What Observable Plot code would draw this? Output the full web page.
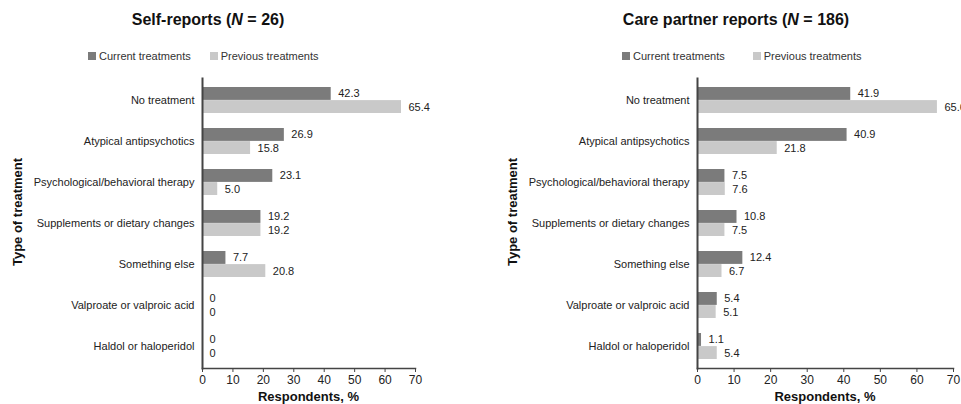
<!DOCTYPE html>
<html>
<head>
<meta charset="utf-8">
<script src="https://cdn.jsdelivr.net/npm/d3@7"></script>
<script src="https://cdn.jsdelivr.net/npm/@observablehq/plot@0.6"></script>
<style>
  html, body { margin: 0; padding: 0; background: #fff; }
  body { width: 961px; height: 404px; position: relative; overflow: hidden; font-family: "Liberation Sans", Arial, sans-serif; color: #222; }
  .panel { position: absolute; top: 0; height: 404px; }
  .title { position: absolute; top: 11px; font-size: 16px; font-weight: bold; white-space: nowrap; transform: translateX(-50%); color: #111; }
  .legend { position: absolute; top: 50px; font-size: 11px; white-space: nowrap; color: #333; }
  .legend span.sw { display: inline-block; width: 8px; height: 8px; margin-right: 3px; vertical-align: -0px; }
  .ytitle { position: absolute; font-size: 13px; font-weight: bold; white-space: nowrap; transform: translate(-50%, -50%) rotate(-90deg); color: #111; }
  .plotwrap { position: absolute; top: 70px; left: 0; }
  .plotwrap svg { overflow: visible; }
</style>
</head>
<body>
<script>
const categories = [
  "No treatment",
  "Atypical antipsychotics",
  "Psychological/behavioral therapy",
  "Supplements or dietary changes",
  "Something else",
  "Valproate or valproic acid",
  "Haldol or haloperidol"
];
const seriesNames = ["Current treatments", "Previous treatments"];
const seriesColors = ["#7b7b7b", "#c9c9c9"];
const xTicks = [0, 10, 20, 30, 40, 50, 60, 70];

const selfCurrent  = [42.3, 26.9, 23.1, 19.2, 7.7, 0, 0];
const selfPrevious = [65.4, 15.8, 5.0, 19.2, 20.8, 0, 0];
const careCurrent  = [41.9, 40.9, 7.5, 10.8, 12.4, 5.4, 1.1];
const carePrevious = [65.6, 21.8, 7.6, 7.5, 6.7, 5.1, 5.4];

const panels = [
  {title: "Self-reports (", n: "26", current: selfCurrent, previous: selfPrevious,
   left: 0, width: 480, marginLeft: 202, marginRight: 65, titleX: 208, legendX: 88, legendGap: 123, yTitleX: 17},
  {title: "Care partner reports (", n: "186", current: careCurrent, previous: carePrevious,
   left: 480, width: 481, marginLeft: 217, marginRight: 8, titleX: 256, legendX: 142, legendGap: 132, yTitleX: 32}
];

const H = 334, MT = 8, MB = 36;
const padInner = 0.37, padOuter = 0.17;
const step = (H - MT - MB) / (categories.length - padInner + 2 * padOuter);
const half = step * (1 - padInner) / 2;

function fmt(v) { return v === 0 ? "0" : v.toFixed(1); }

for (const p of panels) {
  const panel = document.createElement("div");
  panel.className = "panel";
  panel.style.left = p.left + "px";
  panel.style.width = p.width + "px";
  document.body.appendChild(panel);

  const t = document.createElement("div");
  t.className = "title";
  t.style.left = p.titleX + "px";
  t.innerHTML = p.title + "<i>N</i> = " + p.n + ")";
  panel.appendChild(t);

  const lg = document.createElement("div");
  lg.className = "legend";
  lg.style.left = p.legendX + "px";
  lg.innerHTML = seriesNames.map((s, i) =>
    `<span style="display:inline-block;margin-right:${i === 0 ? (p.legendGap - 104) : 0}px"><span class="sw" style="background:${seriesColors[i]}"></span>${s}</span>`
  ).join("");
  panel.appendChild(lg);

  const yt = document.createElement("div");
  yt.className = "ytitle";
  yt.style.left = p.yTitleX + "px";
  yt.style.top = "212px";
  yt.textContent = "Type of treatment";
  panel.appendChild(yt);

  const cur = categories.map((c, i) => ({category: c, value: p.current[i]}));
  const prev = categories.map((c, i) => ({category: c, value: p.previous[i]}));

  const chart = Plot.plot({
    width: p.width,
    height: H,
    marginLeft: p.marginLeft,
    marginRight: p.marginRight,
    marginTop: MT,
    marginBottom: MB,
    style: {fontFamily: "Liberation Sans, Arial, sans-serif", fontSize: "11px", color: "#222", background: "transparent", overflow: "visible"},
    x: {domain: [0, 70], ticks: xTicks, tickSize: 4, tickPadding: 3, label: null},
    y: {domain: categories, paddingInner: padInner, paddingOuter: padOuter, tickSize: 0, tickPadding: 8, label: null},
    marks: [
      Plot.barX(cur, {y: "category", x: "value", fill: seriesColors[0], insetBottom: half}),
      Plot.barX(prev, {y: "category", x: "value", fill: seriesColors[1], insetTop: half}),
      Plot.text(cur, {y: "category", x: "value", text: d => fmt(d.value), textAnchor: "start", dx: 7, dy: -half / 2, fill: "#222"}),
      Plot.text(prev, {y: "category", x: "value", text: d => fmt(d.value), textAnchor: "start", dx: 7, dy: half / 2, fill: "#222"}),
      Plot.axisX({ticks: xTicks, tickSize: 4, tickPadding: 3, label: null, stroke: "#444", fill: "#222", fontSize: 12}),
      Plot.axisY({tickSize: 0, tickPadding: 8, label: null, fill: "#222", fontSize: 11}),
      Plot.frame({anchor: "left", stroke: "#444", strokeWidth: 2}),
      Plot.frame({anchor: "bottom", stroke: "#444", strokeWidth: 1.5})
    ]
  });

  const wrap = document.createElement("div");
  wrap.className = "plotwrap";
  wrap.appendChild(chart);
  panel.appendChild(wrap);

  const xl = document.createElement("div");
  xl.style.cssText = "position:absolute;top:389px;font-size:13px;font-weight:bold;white-space:nowrap;transform:translateX(-50%);color:#111;";
  xl.style.left = ((p.marginLeft + (p.width - p.marginRight)) / 2) + "px";
  xl.textContent = "Respondents, %";
  panel.appendChild(xl);
}
</script>
</body>
</html>
